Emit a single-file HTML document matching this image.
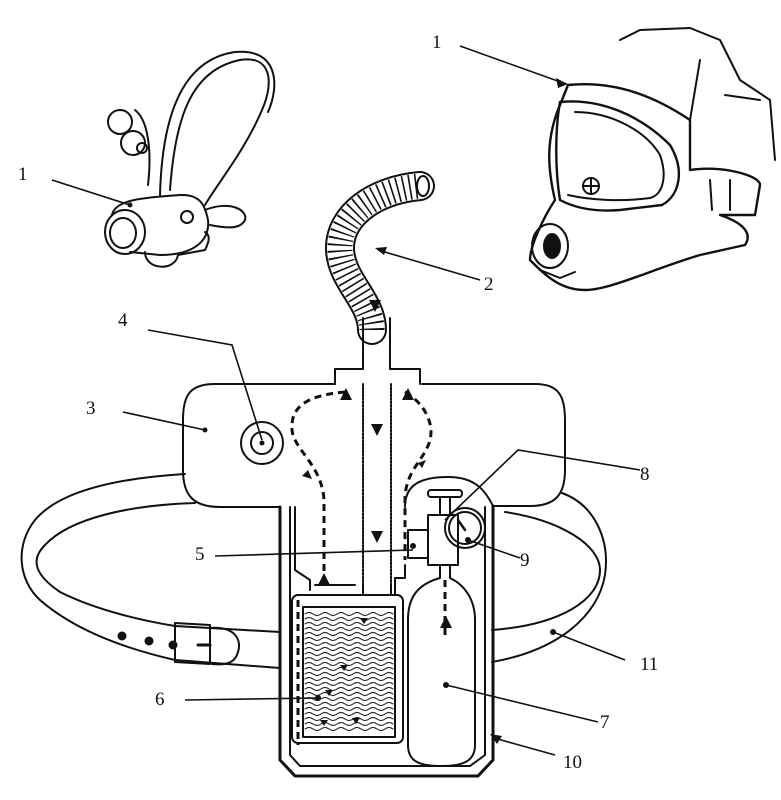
<!DOCTYPE html>
<html><head><meta charset="utf-8"><style>
html,body{margin:0;padding:0;background:#fff;}
svg{display:block;}
text{font-family:"Liberation Serif",serif;font-size:19px;fill:#111;}
</style></head><body>
<svg width="781" height="800" viewBox="0 0 781 800" xmlns="http://www.w3.org/2000/svg">
<g fill="none" stroke="#111" stroke-width="2" stroke-linecap="round" stroke-linejoin="round">

<!-- Left small mouthpiece -->
<path d="M170,190 C175,120 190,70 240,60 C270,55 275,80 262,110 C245,150 220,180 205,205"/>
<path d="M160,195 C162,120 180,60 235,52 C278,48 280,85 268,112"/>
<circle cx="120" cy="122" r="12"/><circle cx="133" cy="143" r="12"/><circle cx="142" cy="148" r="5"/>
<path d="M135,110 C148,120 152,150 148,185"/>
<path d="M112,215 C115,200 140,198 180,195 C200,194 205,205 208,220 C210,240 195,255 160,255 L130,252"/>
<ellipse cx="125" cy="232" rx="20" ry="22"/><ellipse cx="123" cy="233" rx="13" ry="15"/>
<path d="M145,252 C145,270 175,272 178,255 L205,250 C210,240 210,235 205,232"/>
<path d="M205,210 C230,200 248,210 245,220 C240,230 225,228 210,225"/>
<circle cx="187" cy="217" r="6"/>

<!-- Right full-face mask -->
<path d="M568,85 C620,80 660,100 690,120 L690,170 C720,165 760,175 760,185 L755,215 L720,215 C735,220 755,230 745,245 L700,255 C650,270 610,290 585,290 C560,290 545,275 530,260 C530,245 545,215 555,200 C548,170 545,140 560,105 Z" stroke-width="2.4"/>
<path d="M560,102 C600,98 640,115 670,145 C685,170 680,195 662,205 L620,210 C595,212 575,208 560,200 C555,170 555,130 560,102 Z" stroke-width="2.4"/>
<path d="M575,112 C610,112 645,130 660,155 C668,178 662,195 650,198 C620,202 590,200 568,195"/>
<circle cx="591" cy="186" r="8"/><path d="M591,178 L591,194 M583,186 L599,186"/>
<ellipse cx="550" cy="246" rx="18" ry="22"/><ellipse cx="552" cy="246" rx="8" ry="12" fill="#111"/>
<path d="M540,270 L560,278 L575,272"/>
<path d="M620,40 L640,30 L690,28 L720,40 L740,80 L770,100 L775,160 M690,120 L700,60 M725,95 L760,100 M730,180 L730,210 M710,180 L712,210"/>

<!-- Hose -->
<path d="M372,330 C372,300 340,280 340,248 C340,215 375,190 420,186" stroke-width="30"/>
<path d="M372,330 C372,300 340,280 340,248 C340,215 375,190 420,186" stroke="#fff" stroke-width="26"/>
<path d="M372,330 C372,300 340,280 340,248 C340,215 375,190 420,186" stroke-width="25" stroke-linecap="butt" stroke-dasharray="1.6 4.5"/>
<ellipse cx="423" cy="186" rx="6" ry="10" fill="#fff"/>

<!-- Belt left -->
<path d="M185,474 C120,478 60,490 35,520 C15,545 18,580 40,600 C80,635 140,652 175,660 L280,668"/>
<path d="M195,503 C130,505 70,518 45,545 C30,560 35,575 60,592 C100,612 150,622 175,626 L280,632"/>
<path d="M175,623 L210,625 L210,664 L175,662 Z"/>
<path d="M210,628 C235,626 242,640 238,652 C236,660 230,666 212,664"/>
<path d="M198,645 L210,645" stroke-width="3"/>
<circle cx="122" cy="636" r="3.5" fill="#111"/><circle cx="149" cy="641" r="3.5" fill="#111"/><circle cx="173" cy="645" r="3.5" fill="#111"/>

<!-- Belt right -->
<path d="M562,493 C595,505 610,540 605,575 C598,615 560,650 492,662"/>
<path d="M505,512 C560,520 600,545 600,570 C600,600 560,625 492,630"/>

<!-- Housing top -->
<path d="M183,420 C183,395 190,384 215,384 L335,384 M422,384 L535,384 C558,384 565,395 565,420 L565,470 C565,495 555,506 530,506 L493,506 M183,420 L183,470 C183,495 193,507 220,507 L280,507"/>
<path d="M335,384 L335,369 L363,369 L363,318 M390,318 L390,369 L420,369 L420,384"/>
<path d="M280,507 L280,760 L295,776 L478,776 L493,760 L493,506" stroke-width="3"/>
<path d="M290,507 L290,755 L300,766 L470,766 L485,755 L485,507"/>
<path d="M363,384 L363,586 M391,384 L391,586" stroke-dasharray="2 1.5"/>
<path d="M295,507 L295,570 L310,580 L310,590 M315,585 L355,585 M363,586 L363,595 M391,586 L391,595 L395,595 L395,578 L405,578 L405,565"/>
<rect x="292" y="595" width="111" height="148" rx="6"/>
<rect x="303" y="607" width="92" height="130"/>
<g stroke-width="1" id="waves">
<path d="M305,614 q4,-3 8,0 t8,0 t8,0 t8,0 t8,0 t8,0 t8,0 t8,0 t8,0 t8,0 t8,0"/>
</g>
<use href="#waves" y="5"/><use href="#waves" y="10"/><use href="#waves" y="15"/><use href="#waves" y="20"/><use href="#waves" y="25"/><use href="#waves" y="30"/><use href="#waves" y="35"/><use href="#waves" y="40"/><use href="#waves" y="45"/><use href="#waves" y="50"/><use href="#waves" y="55"/><use href="#waves" y="60"/><use href="#waves" y="65"/><use href="#waves" y="70"/><use href="#waves" y="75"/><use href="#waves" y="80"/><use href="#waves" y="85"/><use href="#waves" y="90"/><use href="#waves" y="95"/><use href="#waves" y="100"/><use href="#waves" y="105"/><use href="#waves" y="110"/><use href="#waves" y="115"/>
<path d="M405,507 C405,485 420,477 448,477 C475,477 485,490 493,506"/>
<path d="M440,565 L440,578 C415,585 408,600 408,620 L408,745 C408,762 420,766 442,766 C465,766 475,760 475,745 L475,620 C475,600 465,585 450,578 L450,565"/>
<rect x="428" y="490" width="34" height="7" rx="3"/>
<path d="M440,497 L440,515 M450,497 L450,515"/>
<rect x="428" y="515" width="30" height="50"/>
<rect x="408" y="530" width="20" height="28"/>
<circle cx="465" cy="528" r="20"/><circle cx="465" cy="528" r="16"/>
<path d="M458,520 L465,530" stroke-width="2.5"/>
<circle cx="262" cy="443" r="21"/><circle cx="262" cy="443" r="11"/>
<g stroke-width="3" stroke-dasharray="7 5" stroke-linecap="butt">
<path d="M345,392 C310,395 290,405 292,430 C294,450 322,465 324,500 L324,580"/>
<path d="M405,392 C420,400 435,420 430,440 C425,460 405,470 405,500 L405,560"/>
<path d="M445,580 L445,635"/>
<path d="M298,600 L298,745"/>
</g>
</g>
<g fill="#111">
<path d="M340,400 L346,388 L352,400 Z"/><path d="M402,400 L408,388 L414,400 Z"/>
<path d="M371,424 L377,436 L383,424 Z"/><path d="M371,531 L377,543 L383,531 Z"/>
<path d="M369,300 L375,312 L381,300 Z"/>
<path d="M318,585 L324,573 L330,585 Z"/><path d="M440,628 L446,616 L452,628 Z"/>
<path d="M302,476 L308,470 L312,479 Z"/><path d="M418,463 L426,460 L422,468 Z"/>
<circle cx="205" cy="430" r="2.5"/><circle cx="262" cy="443" r="2.5"/>
<circle cx="468" cy="540" r="3"/><circle cx="413" cy="546" r="3"/>
<circle cx="446" cy="685" r="3"/><circle cx="553" cy="632" r="3"/>
<circle cx="130" cy="205" r="2.5"/><circle cx="318" cy="698" r="3"/>
<path d="M360,618 l8,0 -4,6z"/><path d="M340,665 l8,0 -4,6z"/><path d="M352,718 l8,0 -4,6z"/><path d="M320,720 l8,0 -4,6z"/><path d="M325,690 l8,0 -4,6z"/>
<path d="M490,734 L502,736 L497,744 Z"/><path d="M568,84 L556,78 L558,88 Z"/><path d="M375,248 L387,247 L384,255 Z"/>
</g>
<g stroke="#111" stroke-width="1.6" fill="none">
<path d="M52,180 L130,205"/><path d="M460,46 L566,84"/><path d="M378,250 L480,280"/>
<path d="M148,330 L232,345 L262,440"/><path d="M123,412 L205,430"/>
<path d="M445,520 L518,450 L640,470"/><path d="M468,540 L520,558"/>
<path d="M215,556 L413,550"/><path d="M185,700 L318,698"/>
<path d="M446,685 L598,722"/><path d="M494,738 L555,755"/><path d="M553,632 L625,660"/>
</g>
<text x="18" y="180">1</text>
<text x="432" y="48">1</text>
<text x="484" y="290">2</text>
<text x="86" y="414">3</text>
<text x="118" y="326">4</text>
<text x="195" y="560">5</text>
<text x="155" y="705">6</text>
<text x="600" y="728">7</text>
<text x="640" y="480">8</text>
<text x="520" y="566">9</text>
<text x="563" y="768">10</text>
<text x="640" y="670">11</text>
</svg>
</body></html>
